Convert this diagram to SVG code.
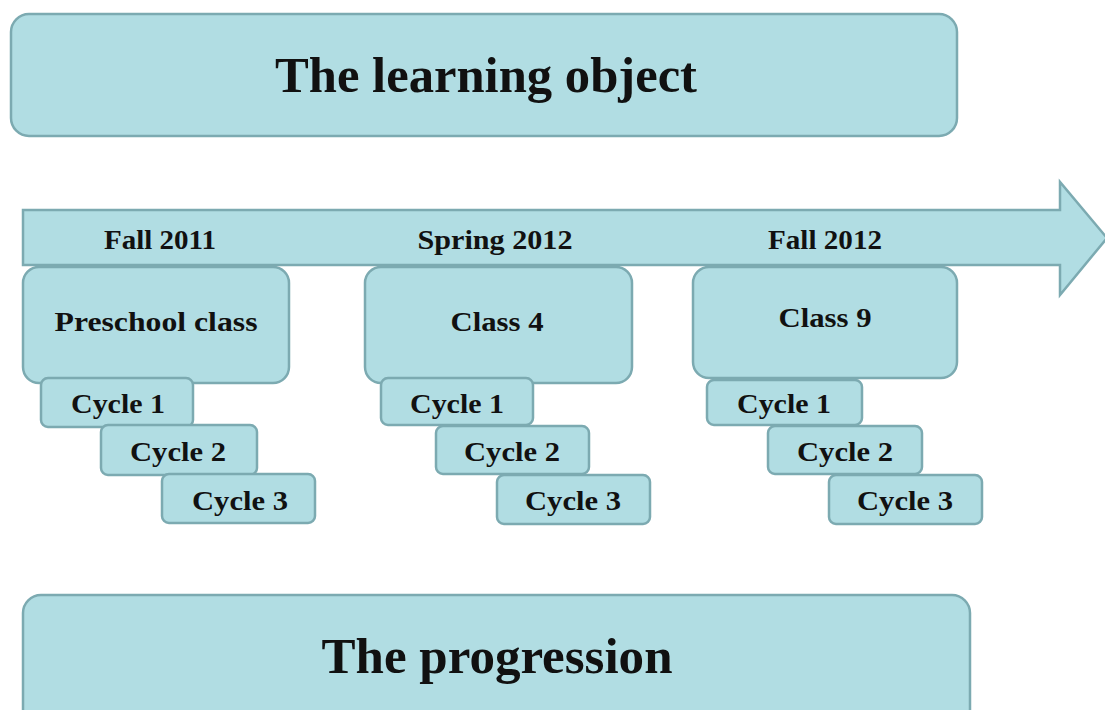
<svg xmlns="http://www.w3.org/2000/svg" width="1105" height="710" viewBox="0 0 1105 710">
<style>
.box{fill:#b1dde3;stroke:#7caab1;stroke-width:2.5}
.t{font-family:"Liberation Serif","Times New Roman",serif;font-weight:bold;fill:#111;text-anchor:middle}
.big{font-size:50px}
.mid{font-size:28px}
.cyc{font-size:28px}
</style>
<rect width="1105" height="710" fill="#fff"/>
<g id="learning-object">
<rect class="box" x="11" y="14" width="946" height="122" rx="18"/>
<text class="t big" x="486" y="92" textLength="422" lengthAdjust="spacingAndGlyphs">The learning object</text>
</g>
<g id="connectors">
<path id="timeline" class="box" d="M23,210 H1060 V182 L1107,238 L1060,295 V265 H23 Z"/>
</g>
<g id="timeline-labels">
<text class="t mid" x="160" y="249" textLength="112" lengthAdjust="spacingAndGlyphs">Fall 2011</text>
<text class="t mid" x="495" y="249" textLength="155" lengthAdjust="spacingAndGlyphs">Spring 2012</text>
<text class="t mid" x="825" y="249" textLength="114" lengthAdjust="spacingAndGlyphs">Fall 2012</text>
</g>
<g id="preschool">
<rect class="box" x="23" y="267" width="266" height="116" rx="16"/>
<text class="t mid" x="156" y="331" textLength="203" lengthAdjust="spacingAndGlyphs">Preschool class</text>
</g>
<g id="class4">
<rect class="box" x="365" y="267" width="267" height="116" rx="16"/>
<text class="t mid" x="497" y="331" textLength="93" lengthAdjust="spacingAndGlyphs">Class 4</text>
</g>
<g id="class9">
<rect class="box" x="693" y="267" width="264" height="111" rx="16"/>
<text class="t mid" x="825" y="327" textLength="93" lengthAdjust="spacingAndGlyphs">Class 9</text>
</g>
<g id="p-cycle1"><rect class="box" x="41" y="378" width="152" height="49" rx="7"/><text class="t cyc" x="118" y="413" textLength="94" lengthAdjust="spacingAndGlyphs">Cycle 1</text></g>
<g id="p-cycle2"><rect class="box" x="101" y="425" width="156" height="50" rx="7"/><text class="t cyc" x="178" y="461" textLength="96" lengthAdjust="spacingAndGlyphs">Cycle 2</text></g>
<g id="p-cycle3"><rect class="box" x="162" y="474" width="153" height="49" rx="7"/><text class="t cyc" x="240" y="510" textLength="96" lengthAdjust="spacingAndGlyphs">Cycle 3</text></g>
<g id="c4-cycle1"><rect class="box" x="381" y="378" width="152" height="47" rx="7"/><text class="t cyc" x="457" y="413" textLength="94" lengthAdjust="spacingAndGlyphs">Cycle 1</text></g>
<g id="c4-cycle2"><rect class="box" x="436" y="426" width="153" height="48" rx="7"/><text class="t cyc" x="512" y="461" textLength="96" lengthAdjust="spacingAndGlyphs">Cycle 2</text></g>
<g id="c4-cycle3"><rect class="box" x="497" y="475" width="153" height="49" rx="7"/><text class="t cyc" x="573" y="510" textLength="96" lengthAdjust="spacingAndGlyphs">Cycle 3</text></g>
<g id="c9-cycle1"><rect class="box" x="707" y="380" width="155" height="45" rx="7"/><text class="t cyc" x="784" y="413" textLength="94" lengthAdjust="spacingAndGlyphs">Cycle 1</text></g>
<g id="c9-cycle2"><rect class="box" x="768" y="426" width="154" height="48" rx="7"/><text class="t cyc" x="845" y="461" textLength="96" lengthAdjust="spacingAndGlyphs">Cycle 2</text></g>
<g id="c9-cycle3"><rect class="box" x="829" y="475" width="153" height="49" rx="7"/><text class="t cyc" x="905" y="510" textLength="96" lengthAdjust="spacingAndGlyphs">Cycle 3</text></g>
<g id="progression">
<rect class="box" x="23" y="595" width="947" height="140" rx="18"/>
<text class="t big" x="497" y="673" textLength="351" lengthAdjust="spacingAndGlyphs">The progression</text>
</g>
</svg>
